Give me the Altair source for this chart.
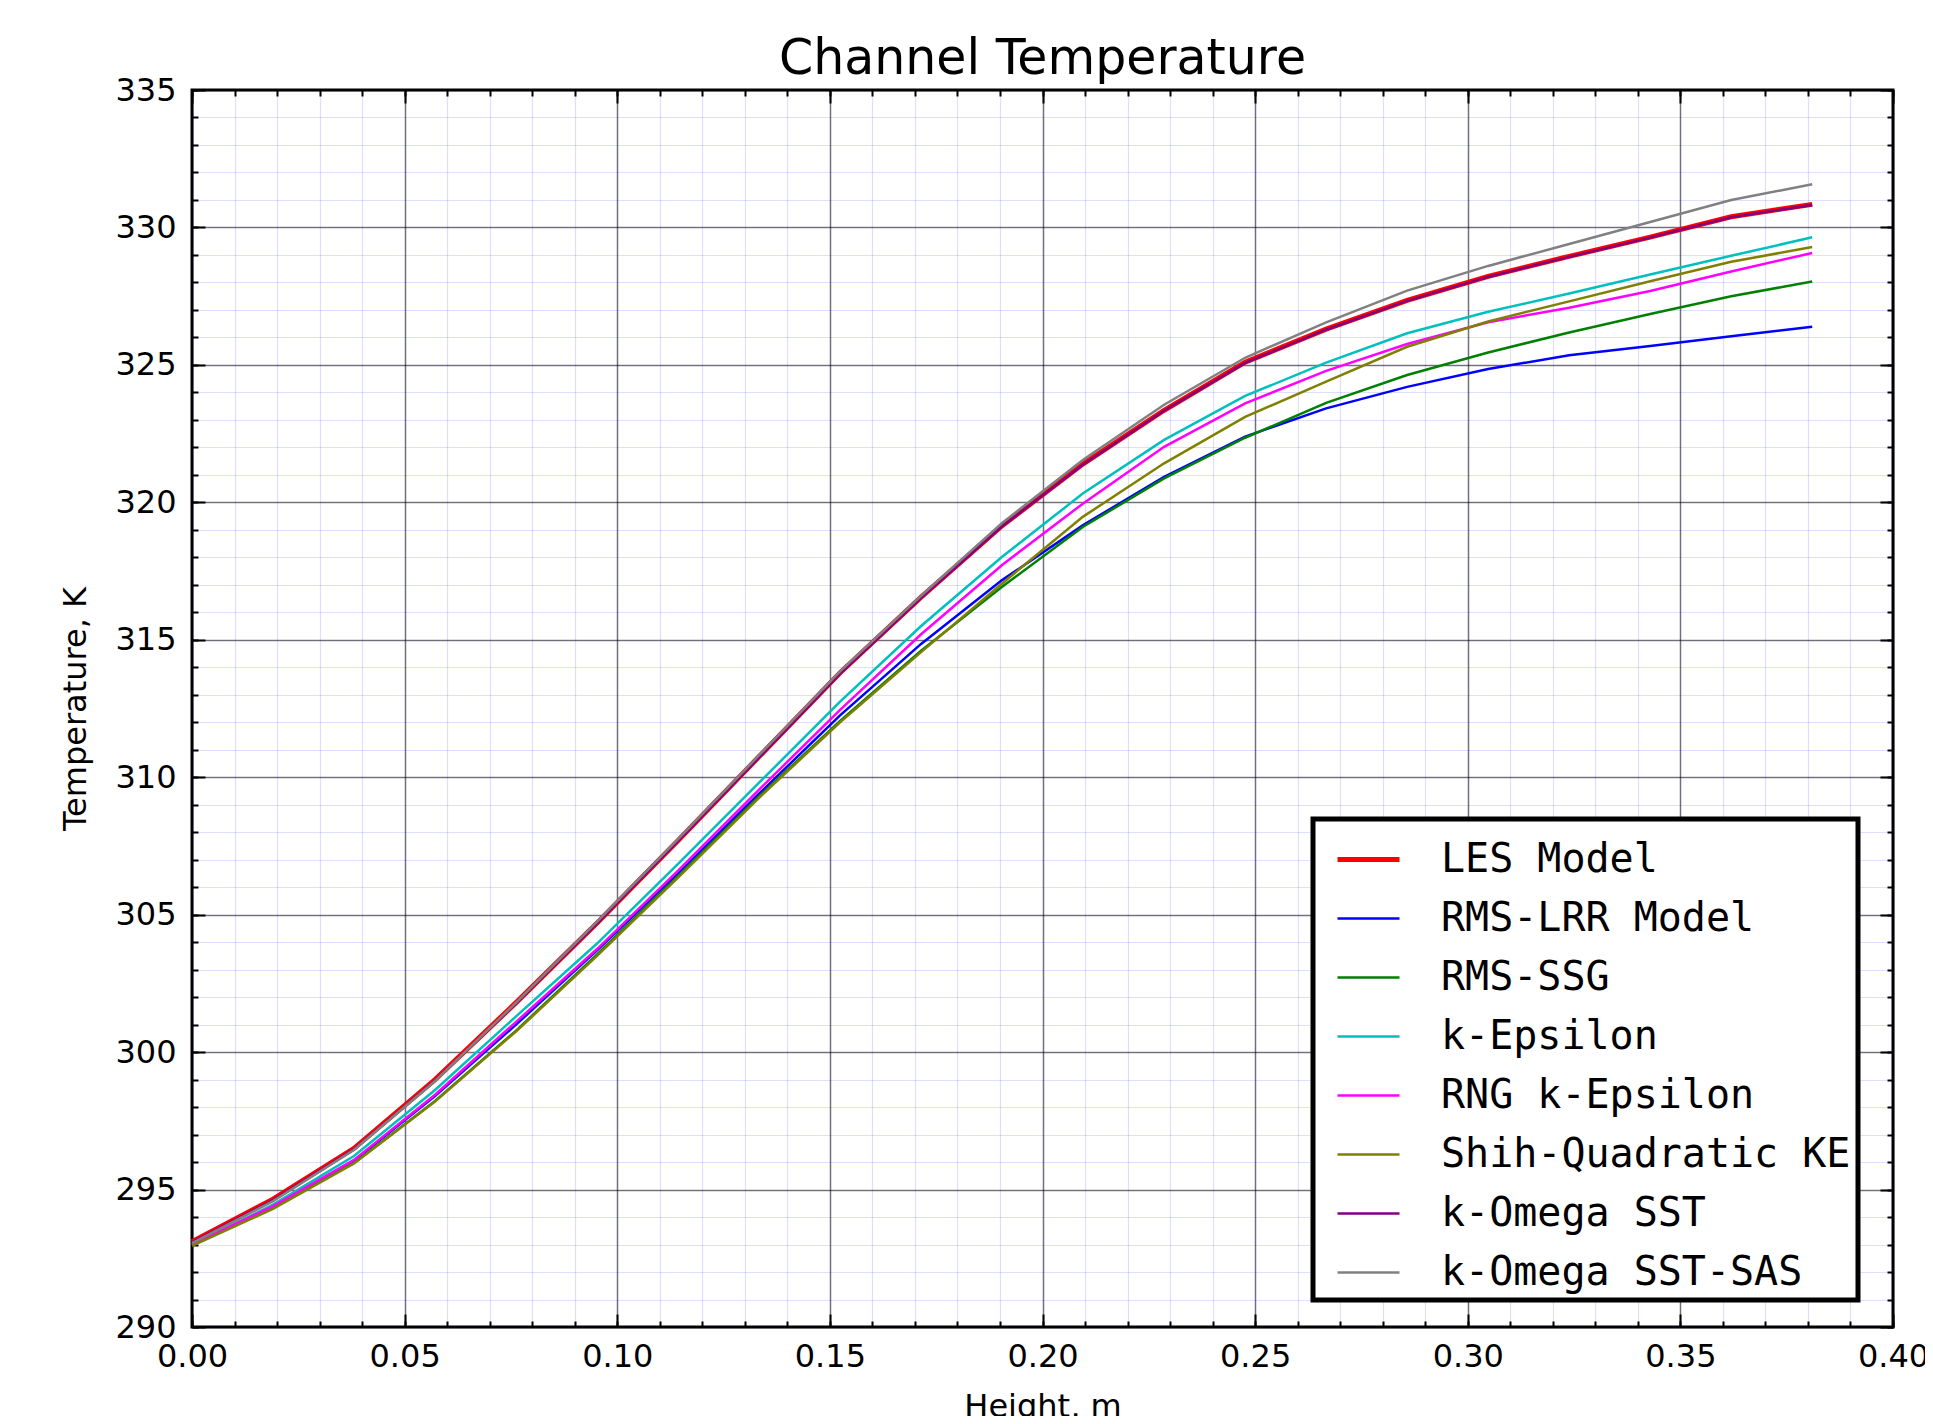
import altair as alt
import pandas as pd

heights = [0.0, 0.01905, 0.0381, 0.05715, 0.0762, 0.09525, 0.1143, 0.13335, 0.1524, 0.17145,
           0.1905, 0.20955, 0.2286, 0.24765, 0.2667, 0.28575, 0.3048, 0.32385, 0.3429, 0.36195, 0.381]

models = ["LES Model", "RMS-LRR Model", "RMS-SSG", "k-Epsilon", "RNG k-Epsilon",
          "Shih-Quadratic KE", "k-Omega SST", "k-Omega SST-SAS"]
colors = ["#ff0000", "#0000ff", "#008000", "#00bfbf", "#ff00ff", "#808000", "#800080", "#808080"]
widths = [5.0, 2.5, 2.5, 2.5, 2.5, 2.5, 2.5, 2.5]

les = [293.1, 294.65, 296.5, 299.0, 301.8, 304.7, 307.7, 310.75, 313.8, 316.55,
       319.15, 321.4, 323.35, 325.1, 326.3, 327.35, 328.22, 328.95, 329.65, 330.39, 330.84]
rms_lrr = [293.0, 294.38, 296.05, 298.4, 301.0, 303.7, 306.5, 309.4, 312.25, 314.85,
           317.17, 319.17, 320.93, 322.39, 323.42, 324.2, 324.85, 325.35, 325.69, 326.04, 326.39]
rms_ssg = [293.0, 294.35, 295.97, 298.22, 300.78, 303.55, 306.4, 309.3, 312.05, 314.6,
           316.93, 319.11, 320.87, 322.35, 323.62, 324.63, 325.45, 326.18, 326.85, 327.5, 328.03]
k_eps = [293.0, 294.45, 296.22, 298.62, 301.3, 303.95, 306.85, 309.8, 312.75, 315.5,
         318.02, 320.33, 322.27, 323.87, 325.08, 326.15, 326.93, 327.6, 328.29, 328.97, 329.64]
rng_k_eps = [293.0, 294.4, 296.08, 298.45, 301.1, 303.75, 306.6, 309.55, 312.45, 315.2,
             317.72, 319.96, 322.02, 323.6, 324.78, 325.76, 326.55, 327.08, 327.69, 328.4, 329.07]
shih = [292.95, 294.3, 295.95, 298.2, 300.75, 303.5, 306.35, 309.25, 312.0, 314.55,
        317.05, 319.48, 321.42, 323.11, 324.39, 325.66, 326.58, 327.31, 328.04, 328.75, 329.29]
sst = [293.08, 294.62, 296.47, 298.97, 301.77, 304.68, 307.68, 310.72, 313.77, 316.53,
       319.13, 321.38, 323.33, 325.07, 326.28, 327.33, 328.2, 328.93, 329.63, 330.37, 330.82]
sst_sas = [293.05, 294.58, 296.45, 298.95, 301.8, 304.75, 307.75, 310.8, 313.85, 316.6,
           319.25, 321.55, 323.55, 325.26, 326.55, 327.7, 328.6, 329.4, 330.2, 331.0, 331.57]

series = [les, rms_lrr, rms_ssg, k_eps, rng_k_eps, shih, sst, sst_sas]

x_major = [0.0, 0.05, 0.1, 0.15, 0.2, 0.25, 0.3, 0.35, 0.4]
x_minor = [round(i * 0.01, 2) for i in range(41)]
y_major = [290, 295, 300, 305, 310, 315, 320, 325, 330, 335]
y_minor = list(range(290, 336))

rows = []
for name, vals in zip(models, series):
    for h, t in zip(heights, vals):
        rows.append({"model": name, "height": h, "temp": t})
df = pd.DataFrame(rows)

W, H = 1701, 1237
FONT = "DejaVu Sans"

xs = alt.Scale(domain=[0, 0.4], nice=False, zero=False)
ys = alt.Scale(domain=[290, 335], nice=False, zero=False)


def axis_layer(xaxis, yaxis):
    return alt.Chart(df).mark_line(strokeOpacity=0).encode(
        x=alt.X("height:Q", scale=xs, axis=xaxis),
        y=alt.Y("temp:Q", scale=ys, axis=yaxis),
        detail="model:N",
    )


def grid_axis(orient, values, color, opacity, width):
    return alt.Axis(orient=orient, values=values, grid=True, gridColor=color,
                    gridOpacity=opacity, gridWidth=width, labels=False, ticks=False,
                    domain=False, title="")


def tick_axis(orient, values, size, offset):
    return alt.Axis(orient=orient, values=values, grid=False, labels=False, ticks=True,
                    tickSize=size, tickWidth=2, tickColor="black", domain=False,
                    title="", offset=offset)


minor_grid = axis_layer(
    grid_axis("bottom", x_minor, "#0000ff", 0.13, 1.2),
    grid_axis("left", y_minor, "#0000ff", 0.13, 1.2),
)

# inward ticks on all four sides
ticks_a = axis_layer(tick_axis("top", x_minor, 6, -H), tick_axis("right", y_minor, 6, -W))
ticks_b = axis_layer(tick_axis("bottom", x_minor, 6, -H), tick_axis("left", y_minor, 6, -W))
ticks_c = axis_layer(tick_axis("top", x_major, 13, -H), tick_axis("right", y_major, 13, -W))
ticks_d = axis_layer(tick_axis("bottom", x_major, 13, -H), tick_axis("left", y_major, 13, -W))

x_main = alt.Axis(orient="bottom", values=x_major, grid=True, gridColor="black",
                  gridOpacity=0.5, gridWidth=1.5, labels=True, format=".2f",
                  labelFont=FONT, labelFontSize=32, labelColor="black", labelPadding=14,
                  labelFlush=False, labelOverlap=False, ticks=False, tickSize=0,
                  domain=False, title="Height, m", titleFont=FONT, titleFontSize=32,
                  titleFontWeight="normal", titleColor="black", titlePadding=19)
y_main = alt.Axis(orient="left", values=y_major, grid=True, gridColor="black",
                  gridOpacity=0.5, gridWidth=1.5, labels=True, format="d",
                  labelFont=FONT, labelFontSize=32, labelColor="black", labelPadding=16,
                  labelFlush=False, labelOverlap=False, ticks=False, tickSize=0,
                  domain=False, title="Temperature, K", titleFont=FONT, titleFontSize=32,
                  titleFontWeight="normal", titleColor="black", titlePadding=22)

legend = alt.Legend(title=None, orient="none", legendX=1121, legendY=729,
                    symbolType="stroke", symbolSize=3844, labelFont="DejaVu Sans Mono",
                    labelFontSize=40, labelColor="black", labelOffset=39,
                    fillColor="white", strokeColor="black", padding=7,
                    symbolOffset=15, rowPadding=6, cornerRadius=0, labelLimit=700)

lines = alt.Chart(df).mark_line().encode(
    x=alt.X("height:Q", scale=xs, axis=x_main),
    y=alt.Y("temp:Q", scale=ys, axis=y_main),
    color=alt.Color("model:N", scale=alt.Scale(domain=models, range=colors), legend=legend),
    strokeWidth=alt.StrokeWidth("model:N",
                                scale=alt.Scale(type="ordinal", domain=models, range=widths),
                                legend=legend),
)

chart = alt.layer(minor_grid, lines, ticks_a, ticks_b, ticks_c, ticks_d).resolve_axis(
    x="independent", y="independent"
).properties(
    width=W, height=H,
    title=alt.TitleParams("Channel Temperature", font=FONT, fontSize=49,
                          fontWeight="normal", color="black", anchor="middle",
                          baseline="alphabetic", offset=-49),
    autosize=alt.AutoSizeParams(type="none"),
    padding={"left": 184, "top": 82, "right": 32, "bottom": 89},
).configure_view(
    stroke="black", strokeWidth=3
).configure_legend(
    strokeWidth=5
)

chart.save("out.html", embed_options={"renderer": "svg", "actions": False})
